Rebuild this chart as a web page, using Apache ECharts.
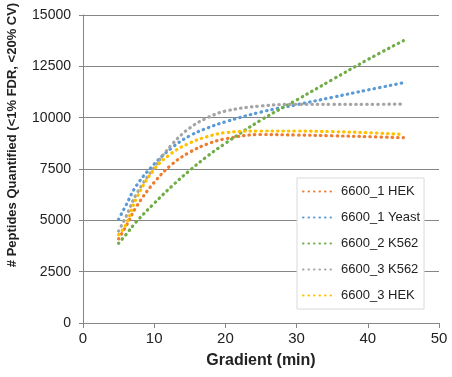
<!DOCTYPE html>
<html>
<head>
<meta charset="utf-8">
<script src="https://cdn.jsdelivr.net/npm/echarts@6/dist/echarts.min.js"></script>
<style>
  html, body { margin: 0; padding: 0; background: #fff; }
  #chart { width: 452px; height: 377px; }
</style>
</head>
<body>
<div id="chart"></div>
<script>
// gradient length (min) where the trend curves were sampled
const gradient = [5, 6, 7.5, 10, 12.5, 15, 17.5, 20, 25, 30, 35, 40, 45];

const hek1 = [4100, 4690, 5665, 6850, 7730, 8320, 8720, 8970, 9180, 9155, 9120, 9075, 9025];
const yeast1 = [5050, 5710, 6690, 7740, 8540, 9120, 9500, 9800, 10275, 10630, 10990, 11350, 11700];
const k562_2 = [3880, 4290, 4935, 5830, 6670, 7435, 8130, 8750, 9886, 10860, 11850, 12830, 13750];
const k562_3 = [4480, 5150, 6280, 7580, 8700, 9500, 10000, 10320, 10570, 10650, 10650, 10650, 10665];
const hek3 = [4300, 4770, 6070, 7485, 8280, 8766, 9080, 9270, 9350, 9350, 9320, 9270, 9190];

const seriesNames = ["6600_1 HEK", "6600_1 Yeast", "6600_2 K562", "6600_3 K562", "6600_3 HEK"];
const seriesColors = ["#ED7D31", "#5B9BD5", "#70AD47", "#A5A5A5", "#FFC000"];
const seriesValues = [hek1, yeast1, k562_2, k562_3, hek3];

const font = "Liberation Sans, Arial, sans-serif";
const gridColor = "#868686";

const chart = echarts.init(document.getElementById("chart"));

const series = seriesValues.map((vals, i) => ({
  name: seriesNames[i],
  type: "line",
  data: vals.map((v, j) => [gradient[j], v]),
  smooth: 0.4,
  symbol: "none",
  showSymbol: false,
  color: seriesColors[i],
  lineStyle: {
    color: seriesColors[i],
    width: 3.2,
    type: [0.5, 5],
    cap: "round",
  },
}));

const option = {
  animation: false,
  backgroundColor: "#fff",
  grid: { left: 83, top: 15, right: 13, bottom: 54 },
  legend: {
    orient: "vertical",
    left: 297,
    top: 178,
    padding: [7, 4, 7, 5],
    itemWidth: 33,
    itemHeight: 14,
    itemGap: 13,
    borderColor: "#D9D9D9",
    borderWidth: 1,
    backgroundColor: "#fff",
    itemStyle: { opacity: 0 },
    textStyle: { fontFamily: font, fontSize: 13, color: "#222" },
    data: seriesNames,
  },
  xAxis: {
    type: "value",
    min: 0,
    max: 50,
    interval: 10,
    name: "Gradient (min)",
    nameLocation: "middle",
    nameGap: 30,
    nameTextStyle: { fontFamily: font, fontSize: 16, fontWeight: "bold", color: "#222" },
    axisLine: { lineStyle: { color: gridColor, width: 1 } },
    axisTick: { show: true, length: 5, lineStyle: { color: gridColor } },
    axisLabel: { fontFamily: font, fontSize: 15, color: "#222", margin: 8 },
    splitLine: { show: false },
  },
  yAxis: {
    type: "value",
    min: 0,
    max: 15000,
    interval: 2500,
    axisLine: { show: true, lineStyle: { color: gridColor, width: 1 } },
    axisTick: { show: true, length: 4, lineStyle: { color: gridColor } },
    axisLabel: {
      fontFamily: font,
      fontSize: 14,
      color: "#222",
      margin: 12,
      formatter: (v) => String(v),
    },
    splitLine: { show: true, lineStyle: { color: gridColor, width: 1 } },
  },
  graphic: [
    {
      type: "text",
      x: 12,
      y: 135,
      rotation: Math.PI / 2,
      style: {
        text: "# Peptides Quantified (<1% FDR, <20% CV)",
        font: "bold 13px Liberation Sans, Arial, sans-serif",
        fill: "#222",
        align: "center",
        verticalAlign: "middle",
      },
    },
  ],
  series: series,
};

chart.setOption(option);
</script>
</body>
</html>
